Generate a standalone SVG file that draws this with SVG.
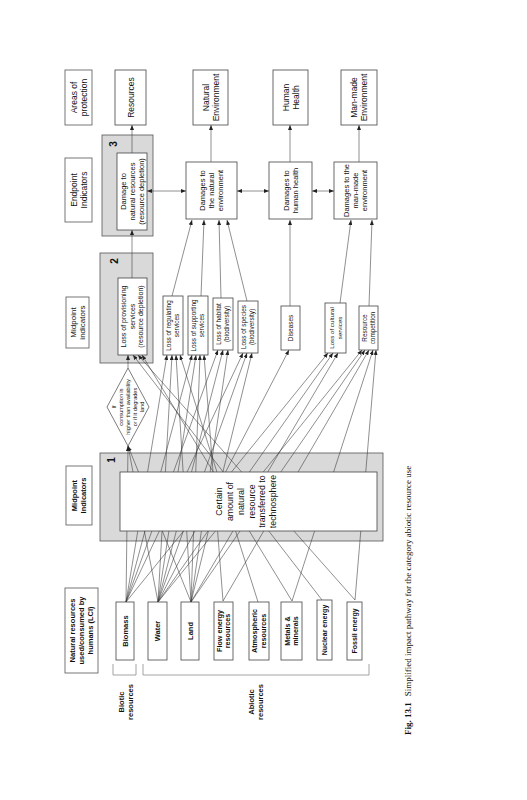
<svg xmlns="http://www.w3.org/2000/svg" width="527" height="800" viewBox="0 0 527 800">
<defs>
<marker id="ah" markerUnits="userSpaceOnUse" markerWidth="5" markerHeight="4" refX="5" refY="2" orient="auto-start-reverse"><path d="M0,0 L5,2 L0,4 z" fill="#222"/></marker>
<style>
text{font-family:"Liberation Sans",Arial,sans-serif;fill:#111}
.b{font-weight:bold}
.box{fill:#fff;stroke:#444;stroke-width:0.8}
.grey{fill:#d9d9d9;stroke:#555;stroke-width:0.8}
.lbl{fill:#fff;stroke:#555;stroke-width:0.8}
.c line{stroke:#333;stroke-width:0.55;marker-end:url(#ah)}
.br{fill:none;stroke:#999;stroke-width:0.9}
.num{font-weight:bold;font-size:10px}
</style>
</defs>
<rect width="527" height="800" fill="#fff"/>

<!-- grey container boxes -->
<rect id="box1" class="grey" x="100" y="453" width="283" height="88"/>
<rect id="box2" class="grey" x="100" y="253" width="53" height="110"/>
<rect id="box3" class="grey" x="102" y="135" width="51" height="101"/>
<text class="num" transform="translate(111,460) rotate(-90)" text-anchor="middle" y="3.5">1</text>
<text class="num" transform="translate(114,261) rotate(-90)" text-anchor="middle" y="3.5">2</text>
<text class="num" transform="translate(113,144) rotate(-90)" text-anchor="middle" y="3.5">3</text>

<!-- connectors -->
<g id="connectors" class="c">
<line x1="126" y1="602" x2="128" y2="446"/>
<line x1="158" y1="602" x2="128" y2="446"/>
<line x1="191" y1="602" x2="128" y2="446"/>
<line x1="322" y1="600" x2="133" y2="355"/>
<line x1="355" y1="600" x2="138" y2="355"/>
<line x1="292" y1="601" x2="142" y2="355"/>
<line x1="126" y1="602" x2="167" y2="355"/>
<line x1="158" y1="602" x2="172" y2="355"/>
<line x1="191" y1="602" x2="176" y2="355"/>
<line x1="258" y1="602" x2="180" y2="355"/>
<line x1="126" y1="602" x2="192" y2="355"/>
<line x1="158" y1="602" x2="196" y2="355"/>
<line x1="191" y1="602" x2="200" y2="355"/>
<line x1="223" y1="601" x2="204" y2="355"/>
<line x1="126" y1="602" x2="218" y2="350"/>
<line x1="158" y1="602" x2="223" y2="350"/>
<line x1="191" y1="602" x2="228" y2="350"/>
<line x1="126" y1="602" x2="243" y2="353"/>
<line x1="158" y1="602" x2="247" y2="353"/>
<line x1="191" y1="602" x2="252" y2="353"/>
<line x1="158" y1="602" x2="289" y2="350"/>
<line x1="126" y1="602" x2="328" y2="353"/>
<line x1="158" y1="602" x2="333" y2="353"/>
<line x1="191" y1="602" x2="338" y2="353"/>
<line x1="158" y1="602" x2="362" y2="350"/>
<line x1="191" y1="602" x2="365" y2="350"/>
<line x1="223" y1="601" x2="369" y2="350"/>
<line x1="292" y1="601" x2="373" y2="350"/>
<line x1="355" y1="600" x2="376" y2="350"/>
<line x1="128" y1="368" x2="128" y2="355"/>
<line x1="172" y1="296" x2="192" y2="220"/>
<line x1="201" y1="296" x2="204" y2="220"/>
<line x1="221" y1="298" x2="219" y2="220"/>
<line x1="247" y1="301" x2="227" y2="220"/>
<line x1="290" y1="306" x2="290" y2="220"/>
<line x1="340" y1="303" x2="351" y2="220"/>
<line x1="369" y1="306" x2="372" y2="220"/>
<line x1="132" y1="278" x2="132" y2="230"/>
<line x1="132" y1="153" x2="132" y2="125"/>
<line x1="211" y1="162" x2="211" y2="125"/>
<line x1="290" y1="162" x2="290" y2="125"/>
<line x1="359" y1="162" x2="359" y2="125"/>
<line x1="147" y1="191" x2="186" y2="191" marker-start="url(#ah)"/>
<line x1="237" y1="191" x2="269" y2="191" marker-start="url(#ah)"/>
<line x1="312" y1="191" x2="334" y2="191" marker-start="url(#ah)"/>
</g>

<!-- box 1 inner -->
<g id="n-certain">
<rect class="box" x="120" y="472" width="257" height="59"/>
<text transform="translate(246,501.5) rotate(-90)" text-anchor="middle" font-size="8.8"><tspan x="0" y="-23.9">Certain</tspan><tspan x="0" y="-13.1">amount of</tspan><tspan x="0" y="-2.3">natural</tspan><tspan x="0" y="8.5">resource</tspan><tspan x="0" y="19.3">transferred to</tspan><tspan x="0" y="30.1">technosphere</tspan></text>
</g>

<!-- row labels -->
<g id="l-lci"><rect class="lbl" x="65" y="588" width="33" height="85"/>
<text class="b" transform="translate(81.5,630.5) rotate(-90)" text-anchor="middle" font-size="7.5"><tspan x="0" y="-6.4">Natural resources</tspan><tspan x="0" y="2.6">used/consumed by</tspan><tspan x="0" y="11.6">humans (LCI)</tspan></text></g>
<g id="l-mid1"><rect class="lbl" x="66" y="466" width="26" height="59"/>
<text class="b" transform="translate(79,495.5) rotate(-90)" text-anchor="middle" font-size="7.5"><tspan x="0" y="-1.9">Midpoint</tspan><tspan x="0" y="7.1">Indicators</tspan></text></g>
<g id="l-mid2"><rect class="lbl" x="66" y="297" width="23" height="51"/>
<text transform="translate(77.5,322.5) rotate(-90)" text-anchor="middle" font-size="8"><tspan x="0" y="-2">Midpoint</tspan><tspan x="0" y="7.2">indicators</tspan></text></g>
<g id="l-end"><rect class="lbl" x="65" y="158" width="27" height="64"/>
<text transform="translate(78.5,190) rotate(-90)" text-anchor="middle" font-size="8.5"><tspan x="0" y="-2">Endpoint</tspan><tspan x="0" y="8">Indicators</tspan></text></g>
<g id="l-aop"><rect class="lbl" x="65" y="70" width="27" height="55"/>
<text transform="translate(78.5,97.5) rotate(-90)" text-anchor="middle" font-size="8.5"><tspan x="0" y="-2">Areas of</tspan><tspan x="0" y="8">protection</tspan></text></g>

<!-- resources -->
<g id="r-biomass"><rect class="box" x="116" y="602" width="18" height="58"/>
<text class="b" transform="translate(125,631) rotate(-90)" text-anchor="middle" font-size="7.5" y="2.6">Biomass</text></g>
<g id="r-water"><rect class="box" x="148" y="602" width="19" height="58" stroke="#888"/>
<text class="b" transform="translate(157.5,631) rotate(-90)" text-anchor="middle" font-size="7.5" y="2.6">Water</text></g>
<g id="r-land"><rect class="box" x="181" y="602" width="18" height="58" stroke="#888"/>
<text class="b" transform="translate(190,631) rotate(-90)" text-anchor="middle" font-size="7.5" y="2.6">Land</text></g>
<g id="r-flow"><rect class="box" x="214" y="602" width="19" height="58" stroke="#888"/>
<text class="b" transform="translate(223.5,631) rotate(-90)" text-anchor="middle" font-size="7.2"><tspan x="0" y="-1.6">Flow energy</tspan><tspan x="0" y="6.8">resources</tspan></text></g>
<g id="r-atm"><rect class="box" x="249" y="602" width="20" height="58"/>
<text class="b" transform="translate(259,631) rotate(-90)" text-anchor="middle" font-size="7.2"><tspan x="0" y="-1.6">Atmospheric</tspan><tspan x="0" y="6.8">resources</tspan></text></g>
<g id="r-metals"><rect class="box" x="281" y="602" width="21" height="58"/>
<text class="b" transform="translate(291.5,631) rotate(-90)" text-anchor="middle" font-size="7.2"><tspan x="0" y="-1.6">Metals &amp;</tspan><tspan x="0" y="6.8">minerals</tspan></text></g>
<g id="r-nuclear"><rect class="box" x="317" y="600" width="15" height="60"/>
<text class="b" transform="translate(324.5,630) rotate(-90)" text-anchor="middle" font-size="7" y="2.5">Nuclear energy</text></g>
<g id="r-fossil"><rect class="box" x="347" y="602" width="15" height="58" stroke="#888"/>
<text class="b" transform="translate(354.5,631) rotate(-90)" text-anchor="middle" font-size="7" y="2.5">Fossil energy</text></g>

<!-- brackets -->
<g id="brackets">
<path class="br" d="M113,664 V675 H136 V664"/>
<path class="br" d="M143,664 V675 H369 V664"/>
<text class="b" transform="translate(126,702) rotate(-90)" text-anchor="middle" font-size="7.5"><tspan x="0" y="-1.6">Biotic</tspan><tspan x="0" y="6.9">resources</tspan></text>
<text class="b" transform="translate(256,702) rotate(-90)" text-anchor="middle" font-size="7.5"><tspan x="0" y="-1.6">Abiotic</tspan><tspan x="0" y="6.9">resources</tspan></text>
</g>

<!-- diamond -->
<g id="n-condition">
<polygon points="128,368 149,407 128,446 107,407" fill="#fff" stroke="#444" stroke-width="0.7"/>
<text transform="translate(128,407) rotate(-90)" text-anchor="middle" font-size="5.6"><tspan x="0" y="-11.6">If</tspan><tspan x="0" y="-4.8">consumption is</tspan><tspan x="0" y="2">higher than availability</tspan><tspan x="0" y="8.8">or if it degrades</tspan><tspan x="0" y="15.6">land</tspan></text>
</g>

<!-- midpoint boxes -->
<g id="m-prov"><rect class="box" x="118" y="278" width="29" height="77"/>
<text transform="translate(132.5,316.5) rotate(-90)" text-anchor="middle" font-size="7"><tspan x="0" y="-6.05">Loss of provisioning</tspan><tspan x="0" y="2.45">services</tspan><tspan x="0" y="10.95">(resource depletion)</tspan></text></g>
<g id="m-reg"><rect class="box" x="163" y="296" width="20" height="59"/>
<text transform="translate(173,325.5) rotate(-90)" text-anchor="middle" font-size="6.4"><tspan x="0" y="-1.7">Loss of regulating</tspan><tspan x="0" y="6.3">services</tspan></text></g>
<g id="m-sup"><rect class="box" x="188" y="296" width="20" height="59"/>
<text transform="translate(198,325.5) rotate(-90)" text-anchor="middle" font-size="6.4"><tspan x="0" y="-1.7">Loss of supporting</tspan><tspan x="0" y="6.3">services</tspan></text></g>
<g id="m-hab"><rect class="box" x="213" y="298" width="20" height="52"/>
<text transform="translate(223,324) rotate(-90)" text-anchor="middle" font-size="6.4"><tspan x="0" y="-1.7">Loss of habitat</tspan><tspan x="0" y="6.3">(biodiversity)</tspan></text></g>
<g id="m-spec"><rect class="box" x="238" y="301" width="20" height="52"/>
<text transform="translate(248,327) rotate(-90)" text-anchor="middle" font-size="6.4"><tspan x="0" y="-1.7">Loss of species</tspan><tspan x="0" y="6.3">(biodiversity)</tspan></text></g>
<g id="m-dis"><rect class="box" x="281" y="306" width="19" height="44"/>
<text transform="translate(290.5,328) rotate(-90)" text-anchor="middle" font-size="6.4" y="2.3">Diseases</text></g>
<g id="m-cult"><rect class="box" x="325" y="303" width="21" height="50"/>
<text transform="translate(335.5,328) rotate(-90)" text-anchor="middle" font-size="6.2"><tspan x="0" y="-1.7">Loss of cultural</tspan><tspan x="0" y="6.3">services</tspan></text></g>
<g id="m-comp"><rect class="box" x="359" y="306" width="19" height="44"/>
<text transform="translate(368.5,328) rotate(-90)" text-anchor="middle" font-size="6.4"><tspan x="0" y="-1.7">Resource</tspan><tspan x="0" y="6.3">competition</tspan></text></g>

<!-- endpoint boxes -->
<g id="e-res"><rect class="box" x="117" y="153" width="30" height="77"/>
<text transform="translate(132,191.5) rotate(-90)" text-anchor="middle" font-size="7.5"><tspan x="0" y="-6.4">Damage to</tspan><tspan x="0" y="2.6">natural resources</tspan><tspan x="0" y="11.6">(resource depletion)</tspan></text></g>
<g id="e-nat"><rect class="box" x="186" y="162" width="51" height="57"/>
<text transform="translate(211.5,190.5) rotate(-90)" text-anchor="middle" font-size="7.5"><tspan x="0" y="-6.4">Damages to</tspan><tspan x="0" y="2.6">the natural</tspan><tspan x="0" y="11.6">environment</tspan></text></g>
<g id="e-hh"><rect class="box" x="269" y="162" width="43" height="57"/>
<text transform="translate(290.5,190.5) rotate(-90)" text-anchor="middle" font-size="7.5"><tspan x="0" y="-1.9">Damages to</tspan><tspan x="0" y="7.1">human health</tspan></text></g>
<g id="e-mm"><rect class="box" x="334" y="162" width="43" height="57"/>
<text transform="translate(355.5,190.5) rotate(-90)" text-anchor="middle" font-size="7.5"><tspan x="0" y="-6.4">Damages to the</tspan><tspan x="0" y="2.6">man-made</tspan><tspan x="0" y="11.6">environment</tspan></text></g>

<!-- areas of protection -->
<g id="a-res"><rect class="box" x="115" y="70" width="31" height="55"/>
<text transform="translate(130.5,97.5) rotate(-90)" text-anchor="middle" font-size="8.5" y="3">Resources</text></g>
<g id="a-nat"><rect class="box" x="193" y="70" width="35" height="55"/>
<text transform="translate(210.5,97.5) rotate(-90)" text-anchor="middle" font-size="8.5"><tspan x="0" y="-2">Natural</tspan><tspan x="0" y="8">Environment</tspan></text></g>
<g id="a-hh"><rect class="box" x="273" y="70" width="35" height="55"/>
<text transform="translate(290.5,97.5) rotate(-90)" text-anchor="middle" font-size="8.5"><tspan x="0" y="-2">Human</tspan><tspan x="0" y="8">Health</tspan></text></g>
<g id="a-mm"><rect class="box" x="341" y="70" width="36" height="55"/>
<text transform="translate(359,97.5) rotate(-90)" text-anchor="middle" font-size="8.5"><tspan x="0" y="-2">Man-made</tspan><tspan x="0" y="8">Environment</tspan></text></g>

<!-- caption -->
<text transform="translate(411,735) rotate(-90)" font-size="9" style="font-family:'Liberation Serif','Times New Roman',serif"><tspan font-weight="bold">Fig. 13.1</tspan><tspan dx="6">Simplified impact pathway for the category abiotic resource use</tspan></text>
</svg>
